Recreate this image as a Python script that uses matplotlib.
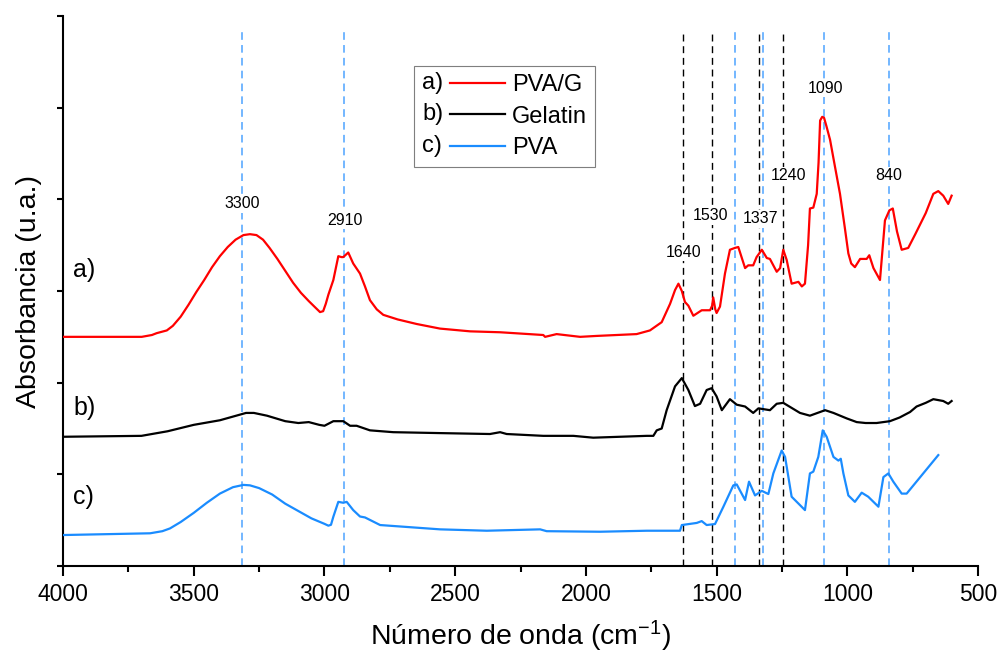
import matplotlib
matplotlib.use("Agg")
import matplotlib.pyplot as plt
from matplotlib.legend_handler import HandlerBase
from matplotlib.lines import Line2D
from matplotlib.text import Text

plt.rcParams["font.family"] = ["Liberation Sans", "DejaVu Sans"]
plt.rcParams["mathtext.fontset"] = "custom"
plt.rcParams["mathtext.rm"] = "Liberation Sans"
plt.rcParams["mathtext.default"] = "regular"

# FTIR spectra (wavenumber in cm-1, absorbance in arbitrary units, stacked)
pvag_wn = [4000, 3850, 3699, 3660, 3642, 3603, 3580, 3550, 3520, 3490, 3460, 3430, 3400,
           3370, 3340, 3310, 3285, 3260, 3235, 3210, 3180, 3150, 3120, 3090, 3060, 3035,
           3017, 3005, 2995, 2985, 2966, 2947, 2935, 2928, 2909, 2890, 2864, 2845, 2826,
           2800, 2775, 2720, 2647, 2558, 2443, 2328, 2163, 2156, 2112, 2022, 1959, 1806,
           1755, 1710, 1678, 1659, 1646, 1633, 1621, 1608, 1589, 1557, 1525, 1517, 1513,
           1505, 1500, 1487, 1468, 1449, 1430, 1417, 1391, 1379, 1360, 1347, 1327, 1308,
           1296, 1270, 1257, 1245, 1232, 1213, 1187, 1174, 1162, 1150, 1143, 1130, 1117,
           1110, 1104, 1096, 1089, 1080, 1066, 1050, 1028, 1010, 996, 985, 971, 951, 926,
           916, 900, 875, 856, 839, 826, 810, 792, 767, 740, 700, 671, 652, 633, 614, 601]
pvag_abs = [2.50, 2.50, 2.50, 2.52, 2.54, 2.57, 2.62, 2.72, 2.85, 2.99, 3.12, 3.26, 3.38,
            3.48, 3.56, 3.61, 3.62, 3.61, 3.56, 3.47, 3.35, 3.22, 3.09, 2.98, 2.89, 2.82,
            2.77, 2.78, 2.86, 2.96, 3.12, 3.38, 3.37, 3.37, 3.42, 3.30, 3.19, 3.05, 2.90,
            2.80, 2.74, 2.69, 2.64, 2.59, 2.56, 2.55, 2.52, 2.50, 2.53, 2.50, 2.51, 2.53,
            2.57, 2.66, 2.86, 3.01, 3.08, 3.00, 2.88, 2.84, 2.73, 2.79, 2.79, 2.84, 2.93,
            2.80, 2.76, 2.83, 3.19, 3.45, 3.47, 3.48, 3.25, 3.28, 3.28, 3.37, 3.45, 3.36,
            3.35, 3.21, 3.25, 3.45, 3.34, 3.08, 3.10, 3.05, 3.08, 3.50, 3.90, 3.91, 4.06,
            4.40, 4.86, 4.90, 4.89, 4.80, 4.65, 4.40, 4.06, 3.70, 3.41, 3.30, 3.26, 3.35,
            3.35, 3.39, 3.25, 3.12, 3.77, 3.88, 3.90, 3.65, 3.45, 3.47, 3.62, 3.85, 4.06,
            4.09, 4.04, 3.95, 4.04]

gel_wn = [4000, 3700, 3600, 3500, 3400, 3350, 3300, 3270, 3220, 3150, 3100, 3060, 3020,
          3000, 2966, 2928, 2902, 2877, 2826, 2737, 2558, 2367, 2328, 2303, 2163, 2048,
          1972, 1767, 1742, 1729, 1710, 1691, 1659, 1633, 1608, 1583, 1563, 1538, 1519,
          1500, 1480, 1449, 1423, 1391, 1360, 1340, 1296, 1270, 1245, 1181, 1143, 1085,
          1053, 1002, 964, 930, 888, 837, 800, 760, 735, 700, 671, 633, 614, 601]
gel_abs = [1.41, 1.42, 1.47, 1.54, 1.59, 1.63, 1.67, 1.67, 1.64, 1.58, 1.56, 1.57, 1.54,
           1.53, 1.58, 1.58, 1.53, 1.53, 1.48, 1.46, 1.45, 1.44, 1.46, 1.44, 1.42, 1.42,
           1.40, 1.42, 1.42, 1.48, 1.50, 1.70, 1.96, 2.05, 1.92, 1.745, 1.77, 1.92, 1.94,
           1.85, 1.70, 1.82, 1.76, 1.74, 1.67, 1.72, 1.70, 1.77, 1.78, 1.67, 1.64, 1.70,
           1.67, 1.61, 1.57, 1.56, 1.56, 1.58, 1.62, 1.68, 1.74, 1.78, 1.82, 1.80, 1.77,
           1.80]

pva_wn = [4000, 3667, 3620, 3591, 3550, 3500, 3450, 3400, 3350, 3310, 3285, 3250, 3200,
          3150, 3100, 3050, 3000, 2985, 2975, 2966, 2947, 2928, 2915, 2890, 2864, 2845,
          2787, 2558, 2379, 2175, 2150, 1946, 1767, 1640, 1633, 1576, 1557, 1538, 1506,
          1474, 1436, 1423, 1391, 1376, 1353, 1327, 1302, 1283, 1251, 1238, 1213, 1162,
          1143, 1130, 1111, 1094, 1079, 1053, 1034, 1025, 1015, 996, 971, 945, 920, 881,
          862, 843, 824, 792, 773, 652]
pva_abs = [0.338, 0.357, 0.38, 0.41, 0.48, 0.58, 0.69, 0.79, 0.86, 0.885, 0.88, 0.85, 0.78,
           0.68, 0.60, 0.52, 0.46, 0.44, 0.45, 0.538, 0.70, 0.69, 0.70, 0.61, 0.54, 0.53,
           0.447, 0.40, 0.385, 0.40, 0.38, 0.374, 0.385, 0.385, 0.447, 0.47, 0.49, 0.447,
           0.458, 0.647, 0.88, 0.89, 0.72, 0.92, 0.77, 0.82, 0.785, 1.01, 1.26, 1.19,
           0.756, 0.61, 1.01, 1.03, 1.19, 1.48, 1.41, 1.19, 1.15, 1.17, 1.01, 0.77, 0.70,
           0.80, 0.756, 0.647, 0.97, 1.01, 0.92, 0.79, 0.79, 1.21]

series_names = ["PVA/G", "Gelatin", "PVA"]
series_tags = ["a)", "b)", "c)"]
series_colors = ["#ff0000", "#000000", "#1a8cff"]

# band markers
blue_bands = [3315, 2925, 1429, 1322, 1089, 840]
black_bands = [1628, 1517, 1337, 1246]

peak_labels = ["3300", "2910", "1640", "1530", "1337", "1240", "1090", "840"]
peak_label_x = [3315, 2921, 1627, 1522, 1331, 1224, 1083, 840]
peak_label_y = [3.95, 3.77, 3.42, 3.82, 3.79, 4.26, 5.21, 4.26]


class TaggedLine(HandlerBase):
    """Legend handle drawn as 'a) ———'."""

    def __init__(self, tag):
        super().__init__()
        self.tag = tag

    def create_artists(self, legend, orig_handle, xdescent, ydescent,
                       width, height, fontsize, trans):
        y = height / 2 - ydescent
        x0 = -xdescent
        label = Text(x0, y, self.tag, fontsize=fontsize, va="center", ha="left",
                     transform=trans)
        line = Line2D([x0 + 0.33 * width, x0 + width], [y, y],
                      color=orig_handle.get_color(),
                      linewidth=orig_handle.get_linewidth())
        line.set_transform(trans)
        return [label, line]


fig = plt.figure(figsize=(9.99, 6.53), dpi=100)
ax = fig.add_axes([0.0631, 0.1332, 0.9159, 0.8423])

for wn in blue_bands:
    ax.vlines(wn, 0, 5.82, colors="#4da3ff", linestyles=(0, (5, 3.4)),
              linewidth=1.1, zorder=1)
for wn in black_bands:
    ax.vlines(wn, 0, 5.82, colors="black", linestyles=(0, (5, 3.4)),
              linewidth=1.0, zorder=1)

spectra = [(pvag_wn, pvag_abs), (gel_wn, gel_abs), (pva_wn, pva_abs)]
handles = []
for (wn, ab), name, color in zip(spectra, series_names, series_colors):
    line, = ax.plot(wn, ab, color=color, linewidth=1.6, label=name,
                    solid_joinstyle="round", zorder=3)
    handles.append(line)

tag_y = [3.23, 1.72, 0.75]
for tag, ty in zip(series_tags, tag_y):
    ax.text(3962, ty, tag, fontsize=18, ha="left", va="center", zorder=4)

for txt, tx, ty in zip(peak_labels, peak_label_x, peak_label_y):
    ax.text(tx, ty, txt, fontsize=11.5, ha="center", va="center", zorder=4,
            bbox=dict(facecolor="white", edgecolor="none", pad=1.0))

leg = ax.legend(handles=handles, labels=series_names,
                handler_map={h: TaggedLine(t) for h, t in zip(handles, series_tags)},
                loc="upper left", bbox_to_anchor=(0.3836, 0.909), borderaxespad=0,
                fontsize=17, handlelength=3.5, handletextpad=0.3, labelspacing=0.4,
                borderpad=0.35, fancybox=False, framealpha=1, edgecolor="#7f7f7f")
leg.get_frame().set_linewidth(0.8)

ax.set_xlim(4000, 500)
ax.set_ylim(0, 6)
ax.set_xticks(range(500, 4001, 500))
ax.set_xticks(range(750, 4000, 500), minor=True)
ax.set_yticks(range(0, 7))
ax.set_yticklabels([])

for side in ("top", "right"):
    ax.spines[side].set_visible(False)
for side in ("left", "bottom"):
    ax.spines[side].set_linewidth(1.5)

ax.tick_params(axis="x", which="major", direction="out", length=7.2, width=1.5,
               pad=5, labelsize=16.5)
ax.tick_params(axis="x", which="minor", direction="out", length=4.3, width=1.5)
ax.tick_params(axis="y", which="major", direction="out", length=4.5, width=1.5)

ax.set_xlabel("Número de onda (cm$^{-1}$)", fontsize=20.5, labelpad=9)
ax.set_ylabel("Absorbancia (u.a.)", fontsize=20.5, labelpad=7)

fig.savefig("out.png", dpi=100)
